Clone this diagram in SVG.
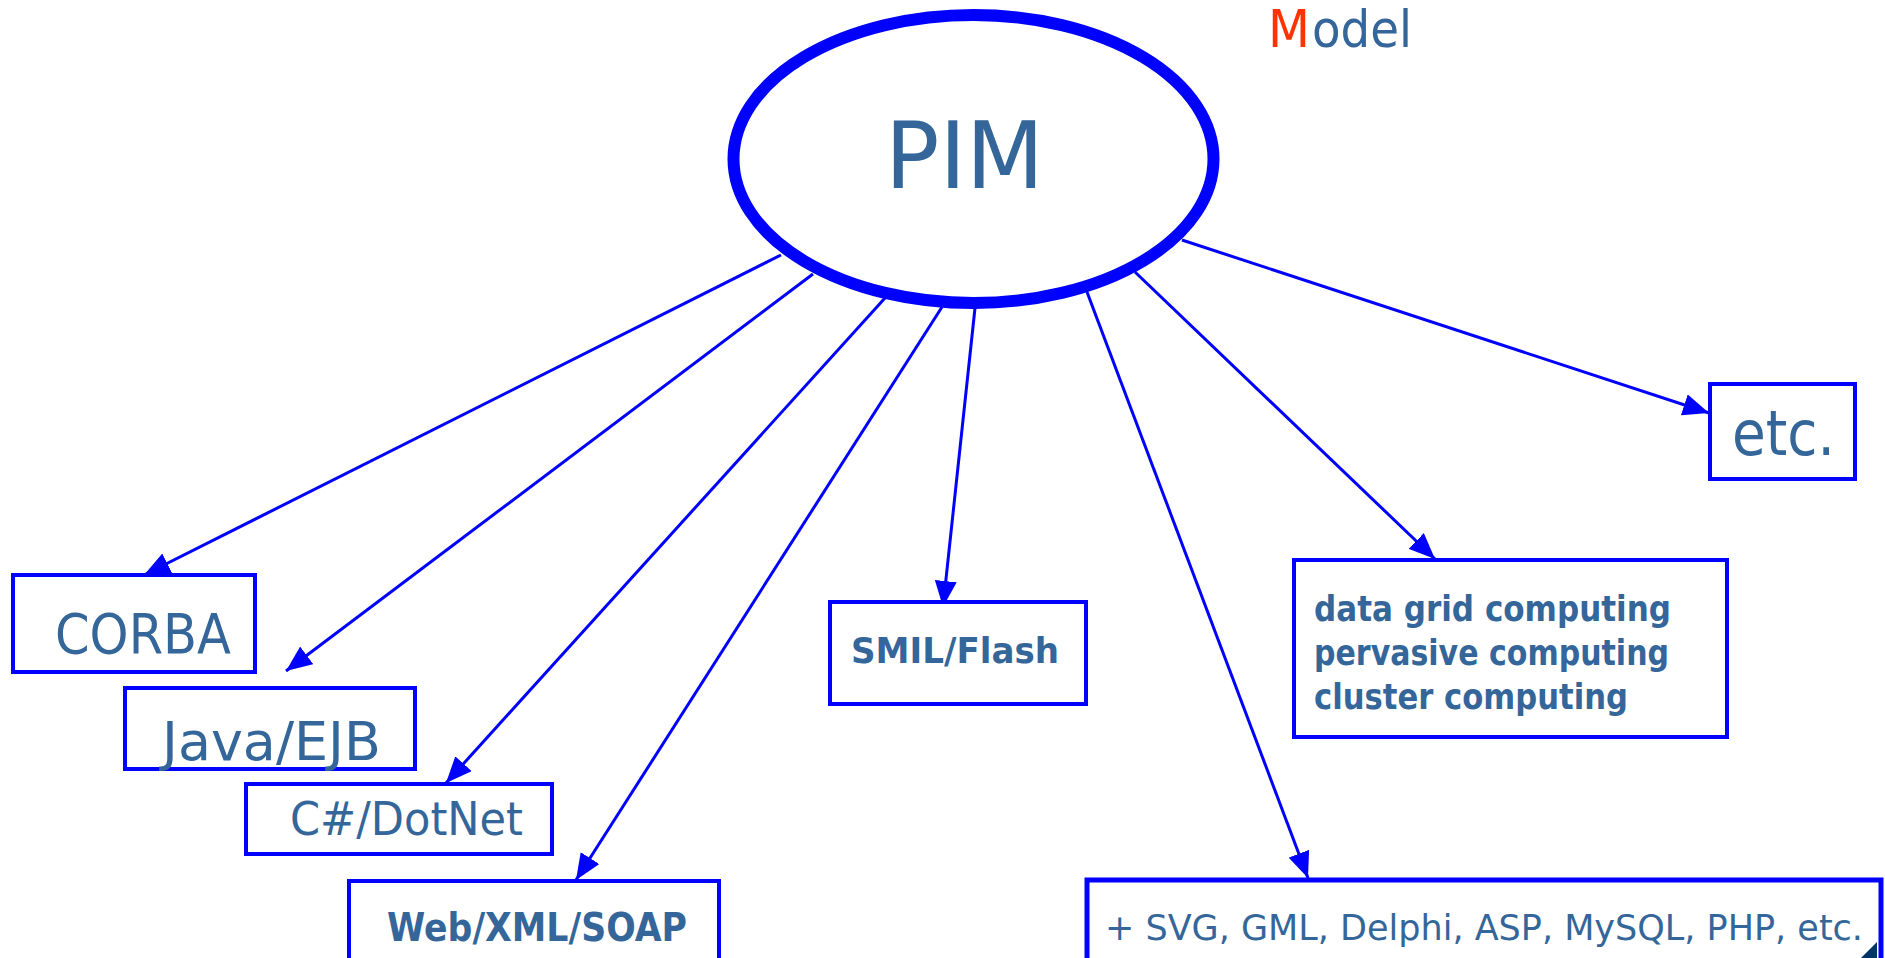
<svg xmlns="http://www.w3.org/2000/svg" width="1885" height="958" viewBox="0 0 1885 958">
<style>
  .box { fill: #ffffff; stroke: #0000ff; stroke-width: 4; }
  .t { font-family: "DejaVu Sans", "Liberation Sans", sans-serif; fill: #35669a; }
  .b { font-weight: bold; }
  .edge { stroke: #0000ff; stroke-width: 3; fill: none; marker-end: url(#arr); }
</style>
<defs>
  <marker id="arr" markerUnits="userSpaceOnUse" viewBox="0 0 26 22" refX="26" refY="11" markerWidth="26" markerHeight="22" orient="auto">
    <path d="M0,0 L26,11 L0,22 Z" fill="#0000ff"/>
  </marker>
</defs>
<rect width="1885" height="958" fill="#ffffff"/>

<g id="connectors">
  <line class="edge" x1="781" y1="255" x2="144" y2="575"/>
  <line class="edge" x1="813" y1="274" x2="286" y2="671"/>
  <line class="edge" x1="885" y1="298" x2="446" y2="783"/>
  <line class="edge" x1="942" y1="307" x2="576" y2="880"/>
  <line class="edge" x1="975" y1="308" x2="943" y2="607"/>
  <line class="edge" x1="1087" y1="292" x2="1308" y2="878"/>
  <line class="edge" x1="1135" y1="272" x2="1435" y2="559"/>
  <line class="edge" x1="1182" y1="240" x2="1709" y2="413"/>
</g>

<g id="model-title">
  <text class="t" x="1268" y="47" font-size="52" fill="#ff3300" style="fill:#ff3300" textLength="42" lengthAdjust="spacingAndGlyphs">M</text>
  <text class="t" x="1312" y="47" font-size="52" textLength="100" lengthAdjust="spacingAndGlyphs">odel</text>
</g>

<g id="pim">
  <ellipse cx="973.5" cy="159" rx="240" ry="144" fill="#ffffff" stroke="#0000ff" stroke-width="12"/>
  <text class="t" x="885" y="188" font-size="92" textLength="159" lengthAdjust="spacingAndGlyphs">PIM</text>
</g>

<g id="corba">
  <rect class="box" x="13" y="575" width="242" height="97"/>
  <text class="t" x="55" y="653" font-size="56" textLength="176" lengthAdjust="spacingAndGlyphs">CORBA</text>
</g>

<g id="java">
  <rect class="box" x="125" y="688" width="290" height="81"/>
  <text class="t" x="162" y="760" font-size="54" textLength="219" lengthAdjust="spacingAndGlyphs">Java/EJB</text>
</g>

<g id="csharp">
  <rect class="box" x="246" y="784" width="306" height="70"/>
  <text class="t" x="290" y="835" font-size="46" textLength="233" lengthAdjust="spacingAndGlyphs">C#/DotNet</text>
</g>

<g id="web">
  <rect class="box" x="349" y="881" width="370" height="90"/>
  <text class="t b" x="387" y="941" font-size="39" textLength="300" lengthAdjust="spacingAndGlyphs">Web/XML/SOAP</text>
</g>

<g id="smil">
  <rect class="box" x="830" y="602" width="256" height="102"/>
  <text class="t b" x="851" y="663" font-size="36" textLength="208" lengthAdjust="spacingAndGlyphs">SMIL/Flash</text>
</g>

<g id="computing">
  <rect class="box" x="1294" y="560" width="433" height="177"/>
  <text class="t b" x="1314" y="621" font-size="35" textLength="357" lengthAdjust="spacingAndGlyphs">data grid computing</text>
  <text class="t b" x="1314" y="665" font-size="35" textLength="355" lengthAdjust="spacingAndGlyphs">pervasive computing</text>
  <text class="t b" x="1314" y="709" font-size="35" textLength="314" lengthAdjust="spacingAndGlyphs">cluster computing</text>
</g>

<g id="others">
  <rect x="1087" y="880" width="794" height="90" fill="#ffffff" stroke="#0000ff" stroke-width="5"/>
  <text class="t" x="1105" y="940" font-size="36" textLength="758" lengthAdjust="spacingAndGlyphs">+ SVG, GML, Delphi, ASP, MySQL, PHP, etc.</text>
  <polygon points="1861,958 1877,942 1877,958" fill="#003366"/>
</g>

<g id="etc">
  <rect class="box" x="1710" y="384" width="145" height="95"/>
  <text class="t" x="1732" y="455" font-size="62" textLength="103" lengthAdjust="spacingAndGlyphs">etc.</text>
</g>
</svg>
